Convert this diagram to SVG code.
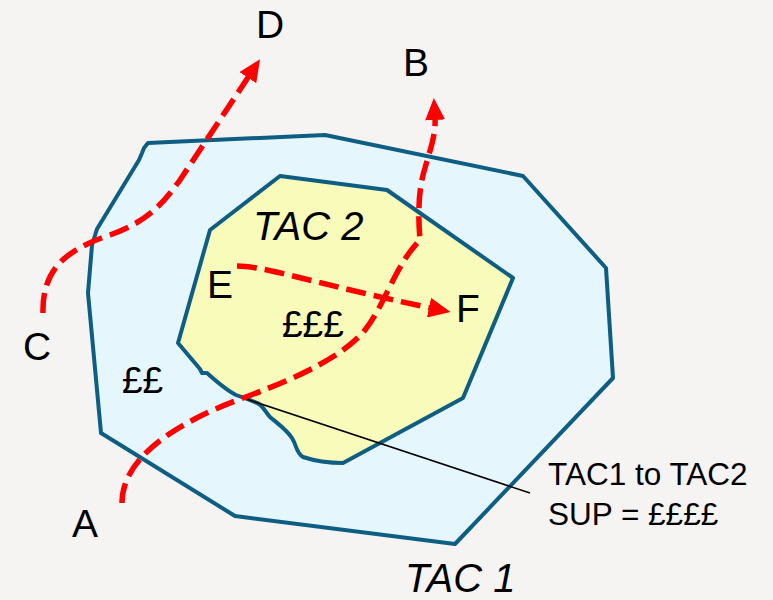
<svg xmlns="http://www.w3.org/2000/svg" width="773" height="600" viewBox="0 0 773 600">
<defs>
<style>
.zone{stroke:#0d5e82;stroke-width:4;stroke-linejoin:round}
.route{fill:none;stroke:#ff0000;stroke-width:5.5;stroke-dasharray:20 8}
.lbl{font-family:"Liberation Sans",Arial,sans-serif;fill:#000}
.big{font-size:39px}
.tac{font-size:40px;font-style:italic}
.note{font-size:31.5px}
.money{font-size:37px}
</style>
<marker id="arr" viewBox="0 0 22 20" refX="2" refY="10" markerWidth="22" markerHeight="20" markerUnits="userSpaceOnUse" orient="auto">
<path d="M0,0 L22,10 L0,20 z" fill="#ff0000"/>
</marker>
</defs>
<rect width="773" height="600" fill="#f5f4f3"/>
<g id="tac1">
<path class="zone" fill="#e6f6fd" d="M148,143 L325,135 L523,176 L606,268 L613,378 L455,544 L235,516 L101,433 L88,293 L92,245 L97,229 L139,160 L142,153 L144,148 Z"/>
</g>
<g id="tac2">
<path class="zone" fill="#f8fbb9" d="M280,176 L387,190 L513,278 L463,398 L343,463 C330,463 318,462 303,457 C296,453 297,446 292,438 C287,430 277,423 270,417 C265,412 263,405 257,403 C250,400 244,398 236,395 C226,390 217,382 207,373 L202,373 L200,369 L178,343 L210,230 Z"/>
</g>
<g id="connectors">
<line x1="243" y1="398" x2="530" y2="493" stroke="#000" stroke-width="1.5"/>
<path id="route-ab" class="route" marker-end="url(#arr)" d="M122,503 C122,460 170,425 243,398 C300,377 345,355 365,330 C385,305 395,265 420,240 C418,215 418,190 425,168 C430,150 436,135 435,118"/>
<path id="route-cd" class="route" marker-end="url(#arr)" d="M43,313 C42,270 65,250 110,235 C145,222 160,208 180,180 L249,76"/>
<path id="route-ef" class="route" marker-end="url(#arr)" d="M237,266 C265,266 320,285 431,308"/>
</g>
<g id="labels">
<text class="lbl big" x="256" y="38">D</text>
<text class="lbl big" x="403" y="76">B</text>
<text class="lbl big" x="23" y="360">C</text>
<text class="lbl big" x="72" y="537">A</text>
<text class="lbl big" x="207" y="298">E</text>
<text class="lbl big" x="456" y="322">F</text>
<text class="lbl money" x="282" y="337">£££</text>
<text class="lbl money" x="122" y="393">££</text>
<text class="lbl tac" x="253" y="240">TAC 2</text>
<text class="lbl tac" x="405" y="592">TAC 1</text>
<text class="lbl note" x="548" y="485">TAC1 to TAC2</text>
<text class="lbl note" x="548" y="525">SUP = ££££</text>
</g>
</svg>
